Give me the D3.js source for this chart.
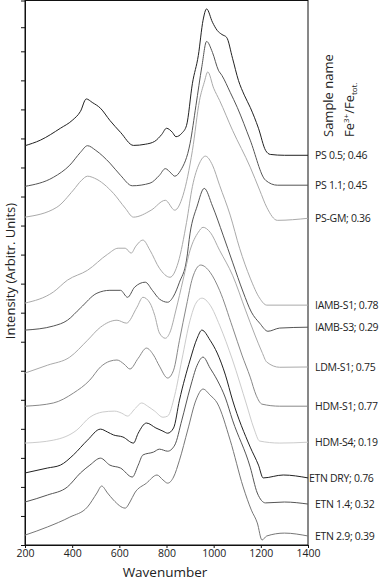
<!DOCTYPE html>
<html>
<head>
<meta charset="utf-8">
<script src="https://cdn.jsdelivr.net/npm/d3@7"></script>
<style>
  body { margin: 0; background: #fff; }
  text { font-family: "Open Sans", "Noto Sans", sans-serif; fill: #222; }
</style>
</head>
<body>
<script>
// spectra, stacked (wavenumber, arbitrary intensity incl. offset)

let sampleNames = ['PS 0.5', 'PS 1.1', 'PS-GM', 'IAMB-S1', 'IAMB-S3', 'LDM-S1', 'HDM-S1', 'HDM-S4', 'ETN DRY', 'ETN 1.4', 'ETN 2.9']
let feRatios = ['0.46', '0.45', '0.36', '0.78', '0.29', '0.75', '0.77', '0.19', '0.76', '0.32', '0.39']
let lineColors = ['#222', '#555', '#aaa', '#aaa', '#555', '#aaa', '#888', '#ccc', '#222', '#555', '#777']
let xTicks = [200, 400, 600, 800, 1000, 1200, 1400]
let yTicks = [0, 1, 2, 3, 4, 5, 6, 7, 8, 9, 10, 11, 12, 13, 14, 15, 16, 17, 17.83]

let ps05 = [[200,13.75],[265,13.94],[350,14.35],[400,14.62],[435,14.93],[460,15.36],[485,15.24],[520,15.04],[560,14.62],[605,14.21],[660,13.76],[710,13.80],[750,13.90],[780,14.14],[800,14.35],[825,14.21],[840,14.06],[865,14.18],[885,14.45],[910,15.90],[935,16.86],[955,18.07],[970,18.46],[995,18.00],[1015,17.72],[1035,17.58],[1055,17.48],[1080,16.76],[1105,16.00],[1130,15.49],[1155,15.07],[1190,14.35],[1220,13.59],[1240,13.45],[1300,13.42],[1400,13.42]]
let ps11 = [[200,12.35],[320,12.66],[390,13.08],[435,13.52],[465,13.75],[500,13.59],[560,13.15],[605,12.73],[655,12.37],[730,12.46],[770,12.73],[795,12.96],[820,12.80],[835,12.70],[860,12.90],[900,13.83],[925,15.14],[950,16.48],[970,17.34],[995,16.96],[1020,16.35],[1035,16.17],[1070,15.59],[1100,15.07],[1155,13.94],[1220,12.56],[1270,12.39],[1400,12.39]]
let psGM = [[200,11.29],[335,11.63],[405,12.22],[440,12.56],[465,12.70],[495,12.63],[575,12.11],[625,11.60],[660,11.29],[735,11.53],[795,11.87],[835,11.53],[870,12.04],[910,13.59],[940,15.31],[960,15.93],[975,16.29],[1000,15.73],[1025,15.31],[1080,14.28],[1155,13.01],[1195,12.22],[1225,11.63],[1270,11.18],[1400,11.25]]
let iambS1 = [[200,8.33],[320,8.71],[380,9.12],[465,9.46],[550,10.01],[595,10.22],[625,10.22],[650,10.05],[670,10.29],[700,10.50],[730,10.15],[770,9.53],[815,9.22],[850,9.74],[885,11.11],[910,12.35],[940,13.15],[965,13.39],[995,13.08],[1025,12.39],[1070,11.36],[1110,10.22],[1155,9.19],[1195,8.50],[1225,8.26],[1400,8.26]]
let iambS3 = [[200,7.40],[320,7.54],[380,7.74],[435,8.16],[505,8.67],[560,8.77],[605,8.77],[635,8.53],[665,8.88],[710,9.05],[740,8.77],[770,8.47],[805,8.36],[830,8.57],[855,9.05],[885,9.81],[900,10.74],[930,11.67],[960,12.28],[995,11.67],[1040,10.67],[1080,9.74],[1125,8.71],[1160,8.02],[1195,7.64],[1230,7.36],[1280,7.47],[1400,7.50]]
let ldmS1 = [[200,5.92],[295,6.19],[390,6.47],[465,7.05],[520,7.50],[590,7.74],[630,7.64],[675,8.19],[700,8.53],[730,8.33],[750,7.91],[770,7.30],[795,7.12],[815,7.33],[840,8.09],[870,9.12],[900,10.15],[935,10.77],[955,10.94],[985,10.77],[1025,10.15],[1080,9.29],[1135,8.09],[1175,7.23],[1205,6.64],[1225,6.30],[1280,6.12],[1400,6.13]]
let hdmS1 = [[200,4.78],[320,4.89],[405,5.23],[475,5.68],[520,6.13],[560,6.33],[590,6.37],[620,6.23],[645,6.06],[680,6.43],[715,6.78],[745,6.54],[770,6.16],[805,5.75],[830,6.02],[855,7.05],[885,8.26],[910,9.19],[945,9.64],[985,9.39],[1025,8.77],[1080,7.50],[1120,6.54],[1155,5.78],[1180,5.16],[1205,4.85],[1280,4.78],[1400,4.78]]
let hdmS4 = [[200,3.51],[320,3.61],[420,3.96],[475,4.40],[530,4.58],[580,4.61],[610,4.54],[635,4.44],[665,4.68],[695,4.89],[720,4.78],[750,4.61],[785,4.40],[805,4.44],[835,5.16],[865,6.37],[900,7.74],[925,8.33],[950,8.50],[985,8.26],[1025,7.57],[1080,6.37],[1140,4.82],[1170,4.03],[1195,3.58],[1280,3.51],[1400,3.54]]
let etnDry = [[200,2.48],[295,2.65],[350,2.75],[405,3.10],[465,3.61],[520,3.99],[550,3.89],[575,3.79],[615,3.72],[660,3.51],[680,3.85],[715,4.20],[755,4.03],[785,3.92],[805,3.85],[830,4.03],[855,4.99],[900,6.37],[930,7.12],[950,7.40],[985,7.05],[1015,6.61],[1050,5.85],[1080,4.99],[1155,3.37],[1190,2.75],[1210,2.31],[1295,2.41],[1400,2.31]]
let etn14 = [[200,1.48],[295,1.72],[380,2.00],[435,2.48],[475,2.75],[520,2.99],[560,2.75],[605,2.65],[655,2.34],[680,2.75],[700,3.10],[745,3.20],[770,3.30],[805,3.23],[835,3.44],[865,4.30],[900,5.40],[930,6.19],[955,6.47],[985,6.09],[1015,5.68],[1050,5.06],[1080,4.30],[1155,2.68],[1185,1.79],[1220,1.45],[1300,1.48],[1400,1.41]]
let etn29 = [[200,0.34],[295,0.62],[390,0.96],[465,1.31],[505,1.79],[525,2.03],[550,1.79],[575,1.55],[625,1.27],[645,1.48],[665,1.79],[715,2.13],[760,2.41],[785,2.24],[805,2.13],[830,2.34],[855,2.92],[890,3.96],[925,4.99],[955,5.37],[985,5.16],[1015,4.89],[1070,3.61],[1125,2.00],[1160,1.20],[1185,0.76],[1205,0.17],[1225,0.31],[1300,0.41],[1400,0.31]]

let spectra = [ps05, ps11, psGM, iambS1, iambS3, ldmS1, hdmS1, hdmS4, etnDry, etn14, etn29]
// label x nudges (ETN DRY sits a bit further left in the original)
let labelDx = [0, 0, 0, 0, 0, 0, 0, 0, -6, 0, 0]

let width = 382
let height = 581
let margin = { top: 0.5, right: 74, bottom: 36, left: 25 }

let svg = d3.select('body')
  .append('svg')
  .attr('width', width)
  .attr('height', height)

let xScale = d3.scaleLinear().domain([200, 1400]).range([margin.left, width - margin.right])
let yScale = d3.scaleLinear().domain([0, 18.75]).range([height - margin.bottom, margin.top])

// frame
svg.append('rect')
  .attr('x', margin.left)
  .attr('y', margin.top)
  .attr('width', xScale(1400) - margin.left)
  .attr('height', yScale(0) - margin.top)
  .attr('fill', 'none')
  .attr('stroke', '#111')
  .attr('stroke-width', 1)

// x axis
let xAxis = d3.axisBottom(xScale).tickValues(xTicks).tickSize(3).tickPadding(2).tickFormat(d3.format('d'))
let gx = svg.append('g')
  .attr('transform', 'translate(0,' + yScale(0) + ')')
  .call(xAxis)
gx.selectAll('text').style('font-size', '10.5px').attr('fill', '#222')
gx.selectAll('line, path').attr('stroke', '#111')

// y axis, ticks only
let yAxis = d3.axisLeft(yScale).tickValues(yTicks).tickSize(4).tickFormat('')
let gy = svg.append('g')
  .attr('transform', 'translate(' + margin.left + ',0)')
  .call(yAxis)
gy.selectAll('line, path').attr('stroke', '#111')

// lines
let line = d3.line()
  .x(d => xScale(d[0]))
  .y(d => yScale(d[1]))
  .curve(d3.curveMonotoneX)

svg.append('g')
  .selectAll('path')
  .data(spectra)
  .join('path')
  .attr('d', d => line(d))
  .attr('fill', 'none')
  .attr('stroke', (d, i) => lineColors[i])
  .attr('stroke-width', 1)

// sample labels
svg.append('g')
  .selectAll('text')
  .data(spectra)
  .join('text')
  .attr('x', (d, i) => xScale(1400) + 7 + labelDx[i])
  .attr('y', d => yScale(d[d.length - 1][1]))
  .attr('dy', '0.35em')
  .style('font-size', '10.5px')
  .style('letter-spacing', '-0.3px')
  .text((d, i) => sampleNames[i] + '; ' + feRatios[i])

// right-hand headers
svg.append('text')
  .attr('transform', 'translate(333,137) rotate(-90)')
  .style('font-size', '13px')
  .text('Sample name')

let fe = svg.append('text')
  .attr('transform', 'translate(354,137) rotate(-90)')
  .style('font-size', '13px')
fe.append('tspan').text('Fe')
fe.append('tspan').attr('dy', -5).style('font-size', '8px').text('3+')
fe.append('tspan').attr('dy', 5).text('/Fe')
fe.append('tspan').attr('dy', 3).style('font-size', '8px').text('tot.')

// axis titles
svg.append('text')
  .attr('x', 165)
  .attr('y', 577)
  .attr('text-anchor', 'middle')
  .style('font-size', '13.5px')
  .text('Wavenumber')

svg.append('text')
  .attr('transform', 'translate(15,271) rotate(-90)')
  .attr('text-anchor', 'middle')
  .style('font-size', '13px')
  .text('Intensity (Arbitr. Units)')
</script>
</body>
</html>
